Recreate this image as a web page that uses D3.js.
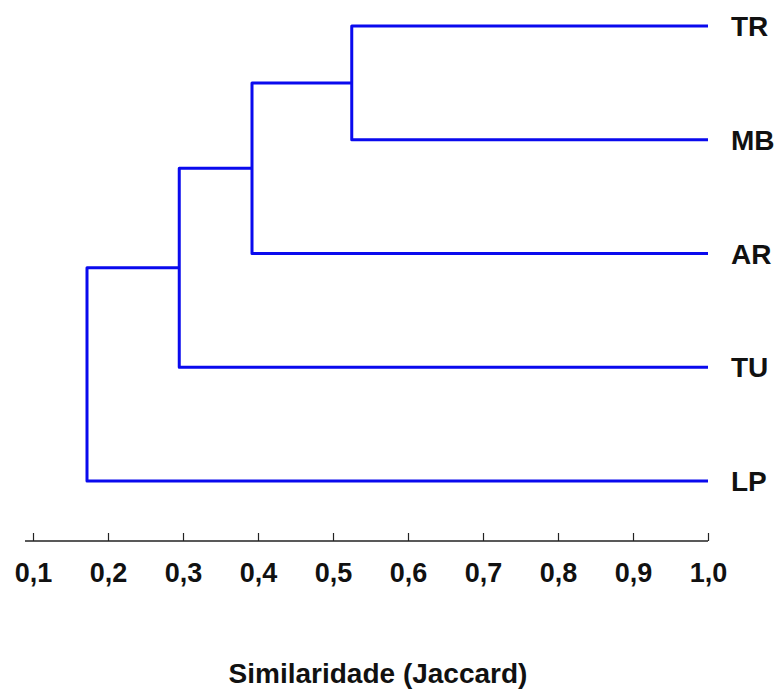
<!DOCTYPE html>
<html>
<head>
<meta charset="utf-8">
<script src="https://cdn.jsdelivr.net/npm/d3@7"></script>
<style>
  body { margin: 0; background: #fff; }
  text { font-family: "Liberation Sans", Arial, sans-serif; font-weight: bold; fill: #111; }
</style>
</head>
<body>
<script>
// dendrogram of Jaccard similarity between sites
var leaves = ['TR', 'MB', 'AR', 'TU', 'LP']
// each merge: [left child, right child, similarity at which they join]
var merges = [
  ['TR', 'MB', 0.525],
  ['TR+MB', 'AR', 0.392],
  ['TR+MB+AR', 'TU', 0.295],
  ['TR+MB+AR+TU', 'LP', 0.172]
]
var ticks = [0.1, 0.2, 0.3, 0.4, 0.5, 0.6, 0.7, 0.8, 0.9, 1.0]
var leafLevel = 1.0

var width = 780
var height = 692

var x = d3.scaleLinear().domain([0.1, 1.0]).range([33, 708])
var y = d3.scalePoint().domain(leaves).range([26, 481])

var svg = d3.select('body').append('svg')
  .attr('width', width)
  .attr('height', height)

// node positions: leaves first, then each merge sits at mean of children
var nodes = {}
leaves.forEach(function (name) {
  nodes[name] = { sim: leafLevel, y: y(name) }
})
merges.forEach(function (m) {
  var a = nodes[m[0]]
  var b = nodes[m[1]]
  nodes[m[0] + '+' + m[1]] = { sim: m[2], y: (a.y + b.y) / 2 }
})

var g = svg.append('g')

// elbow links: horizontal from child to merge level, then vertical joining both
merges.forEach(function (m) {
  var a = nodes[m[0]]
  var b = nodes[m[1]]
  var path = d3.path()
  path.moveTo(x(a.sim), a.y)
  path.lineTo(x(m[2]), a.y)
  path.lineTo(x(m[2]), b.y)
  path.lineTo(x(b.sim), b.y)
  g.append('path')
    .attr('d', path.toString())
    .attr('fill', 'none')
    .attr('stroke', '#0a0aee')
    .attr('stroke-width', 3)
    .attr('stroke-linejoin', 'round')
})

// leaf labels
g.selectAll('.leaf')
  .data(leaves)
  .enter()
  .append('text')
  .attr('class', 'leaf')
  .attr('x', 731)
  .attr('y', function (d) { return y(d) })
  .attr('dy', '0.36em')
  .style('font-size', '28px')
  .text(function (d) { return d })

// x axis, ticks pointing up
var axisY = 541
var xAxis = d3.axisBottom(x)
  .tickValues(ticks)
  .tickSizeInner(-8)
  .tickSizeOuter(0)
  .tickPadding(22)
  .tickFormat(function (d) { return d3.format('.1f')(d).replace('.', ',') })

var ax = svg.append('g')
  .attr('transform', 'translate(0,' + axisY + ')')
  .call(xAxis)

ax.select('.domain').remove()
ax.append('line')
  .attr('x1', x(0.1) - 8)
  .attr('x2', x(1.0))
  .attr('y1', 0)
  .attr('y2', 0)
  .attr('stroke', '#222')
  .attr('stroke-width', 1.5)
ax.selectAll('.tick line').attr('stroke', '#222').attr('stroke-width', 1.2)
ax.selectAll('.tick text')
  .style('font-size', '27px')
  .style('font-family', '"Liberation Sans", Arial, sans-serif')
  .style('font-weight', 'bold')
  .attr('fill', '#111')

svg.append('text')
  .attr('x', 378)
  .attr('y', 683)
  .attr('text-anchor', 'middle')
  .style('font-size', '28px')
  .text('Similaridade (Jaccard)')
</script>
</body>
</html>
